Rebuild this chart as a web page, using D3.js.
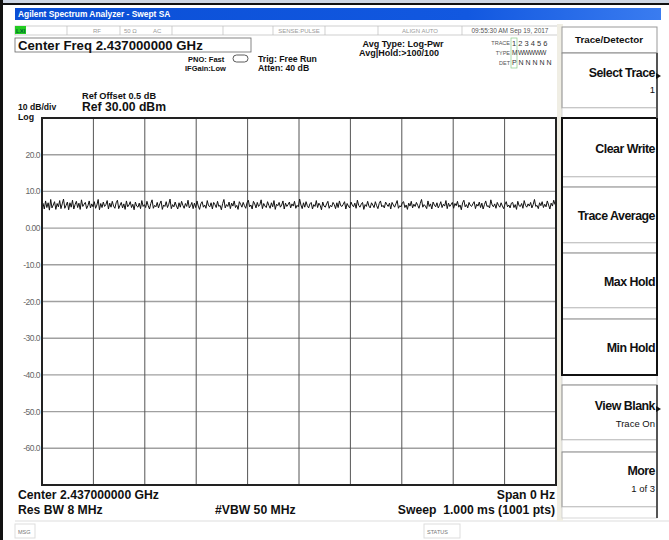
<!DOCTYPE html>
<html><head><meta charset="utf-8">
<script src="https://cdn.jsdelivr.net/npm/d3@7/dist/d3.min.js"></script>
<style>body{margin:0;background:#fff}svg{display:block;font-family:"Liberation Sans",Arial,sans-serif}</style>
</head><body><svg id="c" width="669" height="540"></svg>
<script>
const yTicks = [20, 10, 0, -10, -20, -30, -40, -50, -60];
const yTickLabels = ["20.0","10.0","0.00","-10.0","-20.0","-30.0","-40.0","-50.0","-60.0"];
const refLevel = 30, bottomLevel = -70;
const xDivs = [0,1,2,3,4,5,6,7,8,9,10];
const softKeys = ["Select Trace","Clear Write","Trace Average","Max Hold","Min Hold","View Blank","More"];
const softSub = ["1","","","","","Trace On","1 of 3"];
const traceValues = [
6.8,5.2,7.4,5.6,6.9,4.9,7.8,5.5,6.3,7.2,5.1,6.7,5.8,7.5,5.3,6.6,7.9,5.4,6.2,7.1,
5.0,6.9,5.7,7.6,5.2,6.4,7.3,5.6,6.8,5.1,7.7,5.9,6.5,7.0,5.3,6.1,7.4,5.5,6.6,5.8,
7.2,5.4,6.3,7.8,5.0,6.7,5.6,7.1,5.9,6.4,7.5,5.2,6.8,5.7,7.3,6.0,5.4,6.9,7.6,5.3,
6.2,7.0,5.5,6.6,5.1,7.4,5.8,6.3,7.2,5.6,6.5,5.0,7.1,6.0,5.7,6.8,5.3,7.5,5.9,6.4,
5.6,7.3,6.1,5.2,6.7,7.7,5.4,6.2,5.8,7.0,5.5,6.6,7.4,5.1,6.3,5.9,7.2,5.6,6.5,7.9,
5.3,6.4,5.8,7.1,6.0,5.2,6.9,5.7,7.3,6.2,5.4,6.7,5.9,7.6,5.5,6.1,7.0,5.3,6.8,5.6,
7.4,6.0,5.1,6.6,7.2,5.7,6.3,5.4,7.5,6.1,5.8,6.9,5.2,7.0,6.4,5.6,7.3,5.9,6.2,5.0,
6.7,7.8,5.5,6.4,5.9,7.1,5.3,6.8,6.0,7.4,5.6,6.2,5.1,7.2,6.5,5.7,7.0,6.1,5.4,6.9,
7.6,5.8,6.3,5.2,7.3,6.6,5.5,7.0,5.9,6.4,7.7,5.3,6.7,6.0,5.6,7.2,6.2,5.4,6.9,5.8,
7.5,5.1,6.5,6.1,7.0,5.7,6.3,7.4,5.2,6.8,5.9,6.4,7.1,5.5,6.6,6.0,7.3,5.4,6.2,5.8,
7.9,6.3,5.3,6.9,5.7,7.2,6.1,5.5,6.6,7.0,5.2,6.4,5.9,7.5,5.6,6.8,6.2,5.0,7.1,6.0,
5.7,6.6,7.3,5.4,6.2,5.8,7.0,6.4,5.3,6.9,5.6,7.4,6.1,5.9,6.5,7.2,5.2,6.7,6.0,5.5,
7.1,6.3,5.8,6.8,5.4,7.6,6.2,5.7,6.5,7.0,5.1,6.4,5.9,7.3,6.0,5.5,6.9,6.3,5.6,7.2,
6.1,5.3,6.7,7.4,5.8,6.2,5.5,7.1,6.4,5.9,6.8,5.2,7.0,6.3,5.7,6.6,7.5,5.4,6.1,5.8,
6.9,7.2,5.6,6.3,5.1,6.8,6.0,7.3,5.5,6.5,5.9,7.0,6.2,5.4,6.7,7.8,5.7,6.4,6.0,5.3,
7.4,5.9,6.6,5.2,7.1,6.3,5.8,6.9,5.5,6.2,7.2,5.6,6.5,6.0,7.5,5.3,6.8,5.9,6.4,7.0,
5.4,6.7,6.1,7.3,5.7,6.3,5.0,6.9,7.6,5.8,6.4,5.5,7.0,6.2,5.9,6.6,7.2,5.3,6.5,6.0,
7.1,5.6,6.8,5.2,6.4,7.4,5.9,6.1,5.5,7.7,6.3,5.8,6.6,5.4,7.0,6.2,5.7,6.9,6.0,5.3,
6.5,7.2,5.8,6.3,5.5,6.8,7.0,5.6,6.4,5.1,7.3,6.1,5.9,6.7,5.4,7.5,6.2,5.7,6.6,6.0,
7.0,5.5,6.4,7.8,5.9,6.2,5.3,6.9,6.1,7.2,5.6,6.5,5.8,7.4,6.3,5.2,6.8,6.0,7.6,6.4
];

const svg = d3.select("#c");
const P = {l:42, r:556, t:118, b:485};
const y = d3.scaleLinear().domain([bottomLevel, refLevel]).range([P.b, P.t]);
const xg = d3.scaleLinear().domain([0,10]).range([P.l, P.r]);
const x = d3.scaleLinear().domain([0, traceValues.length-1]).range([P.l+1, P.r-1]);

function txt(t, xx, yy, size, opts={}) {
  return svg.append("text").attr("x",xx).attr("y",yy).attr("font-size",size)
    .attr("font-weight",opts.w||"bold").attr("fill",opts.c||"#111")
    .attr("text-anchor",opts.a||"start").attr("letter-spacing",opts.ls||0)
    .attr("xml:space","preserve").style("white-space","pre").text(t);
}

// frame
svg.append("rect").attr("x",0).attr("y",0).attr("width",669).attr("height",3).attr("fill","#cdd6e4");
svg.append("rect").attr("x",0).attr("y",3).attr("width",669).attr("height",2).attr("fill","#111");
svg.append("rect").attr("x",0).attr("y",0).attr("width",3).attr("height",540).attr("fill","#111");

// title bar
const grad = svg.append("defs").append("linearGradient").attr("id","tb");
grad.append("stop").attr("offset","0").attr("stop-color","#0a4fd6");
grad.append("stop").attr("offset","0.7").attr("stop-color","#1258e0");
grad.append("stop").attr("offset","1").attr("stop-color","#3a7cf0");
svg.append("rect").attr("x",15).attr("y",8).attr("width",646).attr("height",12).attr("fill","url(#tb)");
txt("Agilent Spectrum Analyzer - Swept SA", 18, 17, 8.4, {c:"#fff"});

// status row
svg.append("rect").attr("x",15).attr("y",26).attr("width",545).attr("height",9).attr("fill","#fff").attr("stroke","#bbb").attr("stroke-width",0.7);
[67,120,172,223,273,325,378,462].forEach(v=>svg.append("line").attr("x1",v).attr("x2",v).attr("y1",26).attr("y2",35).attr("stroke","#bbb").attr("stroke-width",0.7));
svg.append("rect").attr("x",15).attr("y",26).attr("width",11).attr("height",8).attr("fill","#22cc22");
txt("LXI",16,33,6,{c:"#063"});
txt("RF",93,33,6,{w:"normal",c:"#999"});
txt("50 Ω",124,33,6,{w:"normal",c:"#999"});
txt("AC",153,33,6,{w:"normal",c:"#999"});
txt("SENSE:PULSE",299,33,6,{w:"normal",c:"#999",a:"middle"});
txt("ALIGN AUTO",420,33,6,{w:"normal",c:"#999",a:"middle"});
txt("09:55:30 AM Sep 19, 2017",510,33,6.5,{w:"normal",c:"#555",a:"middle"});

// center freq box
svg.append("rect").attr("x",15).attr("y",38).attr("width",236).attr("height",14).attr("fill","#fff").attr("stroke","#666").attr("stroke-width",0.8);
txt("Center Freq 2.437000000 GHz",18,50,13.2);
txt("PNO: Fast",188,62,7.5);
svg.append("rect").attr("x",233).attr("y",55).attr("width",15).attr("height",7).attr("rx",3.5).attr("fill","none").attr("stroke","#333").attr("stroke-width",0.8);
txt("IFGain:Low",185,71,7.5);
txt("Trig: Free Run",258,62,8.7);
txt("Atten: 40 dB",258,71,8.7);
txt("Avg Type: Log-Pwr",403,47,9,{a:"middle"});
txt("Avg|Hold:>100/100",399,56,9,{a:"middle"});
txt("TRACE",510,45,5.5,{w:"normal",c:"#555",a:"end"});
txt("TYPE",510,55,5.5,{w:"normal",c:"#555",a:"end"});
txt("DET",510,65,5.5,{w:"normal",c:"#555",a:"end"});
svg.append("rect").attr("x",511).attr("y",38).attr("width",6).attr("height",30).attr("fill","none").attr("stroke","#8c8").attr("stroke-width",0.7);
txt("1 2 3 4 5 6",512,46,7.5,{w:"normal",c:"#333"});
txt("M WWWWW",512,55,6.5,{w:"normal",c:"#333",ls:-0.6});
txt("P N N N N N",512,65,7,{w:"normal",c:"#333"});

// ref texts
txt("Ref Offset 0.5 dB",82,99,9.2);
txt("10 dB/div",18,110,8.6);
txt("Ref 30.00 dBm",82,111,12.2);
txt("Log",18,119.5,8.8);

// grid
const g = svg.append("g");
g.selectAll(".hg").data(yTicks).join("line").attr("x1",P.l).attr("x2",P.r)
  .attr("y1",d=>y(d)).attr("y2",d=>y(d)).attr("stroke","#a0a0a0").attr("stroke-width",1.4);
g.selectAll(".vg").data(xDivs.slice(1,10)).join("line").attr("y1",P.t).attr("y2",P.b)
  .attr("x1",d=>xg(d)).attr("x2",d=>xg(d)).attr("stroke","#555").attr("stroke-width",1);
g.selectAll(".yl").data(yTicks).join("text").attr("x",40).attr("y",d=>y(d)+3)
  .attr("text-anchor","end").attr("font-size",8.5).attr("fill","#666").attr("letter-spacing",-0.5)
  .text((d,i)=>yTickLabels[i]);
// trace
svg.append("path").datum(traceValues).attr("fill","none").attr("stroke","#111").attr("stroke-width",1)
  .attr("d", d3.line().x((d,i)=>x(i)).y(d=>y(d)));
// plot border
svg.append("rect").attr("x",P.l).attr("y",P.t).attr("width",P.r-P.l).attr("height",P.b-P.t)
  .attr("fill","none").attr("stroke","#222").attr("stroke-width",2);

// bottom texts
txt("Center 2.437000000 GHz",18,499,12.2);
txt("Res BW 8 MHz",18,514,12.2);
txt("#VBW 50 MHz",215,514,12.2);
txt("Span 0 Hz",555,499,12.2,{a:"end"});
txt("Sweep  1.000 ms (1001 pts)",555,514,12.2,{a:"end"});

// message bar
svg.append("line").attr("x1",15).attr("x2",669).attr("y1",521).attr("y2",521).attr("stroke","#ddd");
svg.append("rect").attr("x",15).attr("y",524).attr("width",20).attr("height",14).attr("fill","#fff").attr("stroke","#ddd");
txt("MSG",18,534,5.5,{w:"normal",c:"#777"});
svg.append("rect").attr("x",424).attr("y",524).attr("width",36).attr("height",14).attr("fill","#fff").attr("stroke","#ddd");
txt("STATUS",427,534,5.5,{w:"normal",c:"#777"});

// softkey panel
svg.append("rect").attr("x",557).attr("y",24).attr("width",6).attr("height",497).attr("fill","#f0eee4");
svg.append("rect").attr("x",562).attr("y",27).attr("width",95).attr("height",26).attr("fill","#fff").attr("stroke","#999");
txt("Trace/Detector",609,43,9.8,{a:"middle"});
const keyBoxes = [[53,108],[118,177],[187,243],[253,308],[319,375],[385,440],[452,507]];
keyBoxes.forEach((b,i)=>{
  svg.append("rect").attr("x",562).attr("y",b[0]).attr("width",95).attr("height",b[1]-b[0])
    .attr("fill","#fff").attr("stroke","#888").attr("stroke-width",1);
  if(i<6) svg.append("rect").attr("x",562).attr("y",b[1]).attr("width",95).attr("height",keyBoxes[i+1][0]-b[1]).attr("fill","#fff").attr("stroke","#ccc").attr("stroke-width",0.8);
});
svg.append("rect").attr("x",562).attr("y",507).attr("width",95).attr("height",11).attr("fill","#fff").attr("stroke","#ccc").attr("stroke-width",0.8);
svg.append("rect").attr("x",562).attr("y",118).attr("width",95).attr("height",257).attr("fill","none").attr("stroke","#111").attr("stroke-width",2);
svg.append("line").attr("x1",657).attr("x2",657).attr("y1",53).attr("y2",118).attr("stroke","#555").attr("stroke-width",2);
svg.append("line").attr("x1",657).attr("x2",657).attr("y1",385).attr("y2",518).attr("stroke","#555").attr("stroke-width",2);
const mainY = [77,153,220,286,352,410,475];
const subY = [93,0,0,0,0,427,492];
softKeys.forEach((k,i)=>{
  txt(k,655,mainY[i],12.4,{a:"end",ls:-0.5});
  if(softSub[i]) txt(softSub[i],655,subY[i],9.5,{a:"end",w:"normal"});
});
[77,410].forEach(v=>svg.append("path").attr("d",`M656,${v-4}L661,${v-1}L656,${v+2}Z`).attr("fill","#111"));
</script></body></html>
